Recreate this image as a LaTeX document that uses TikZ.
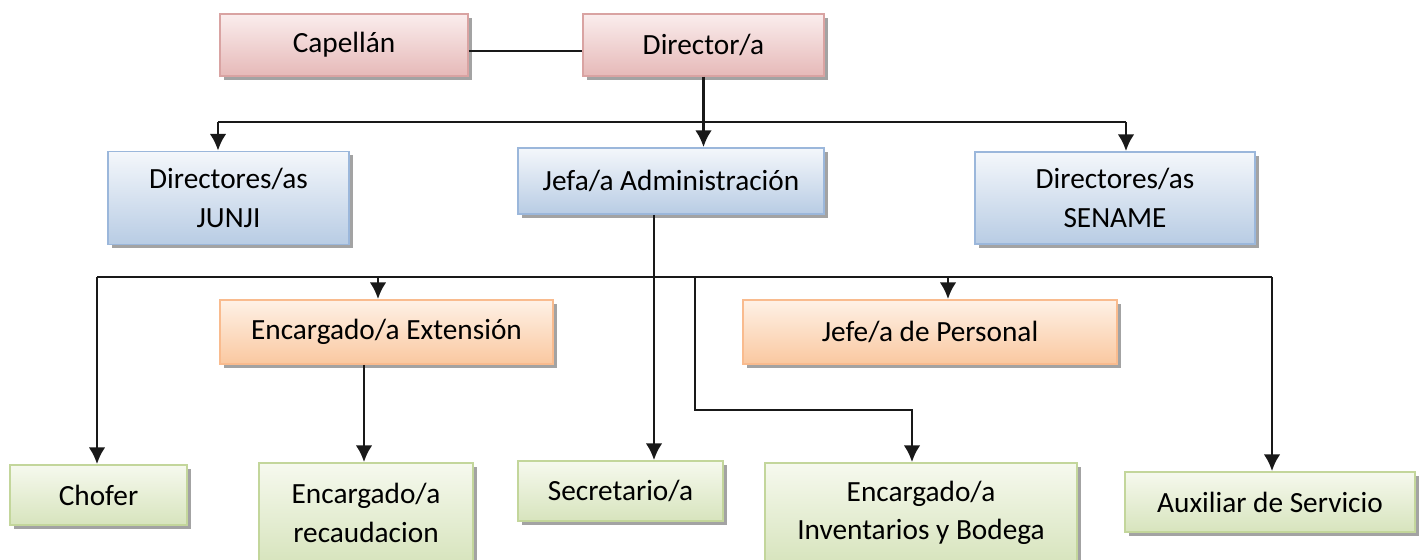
\documentclass[tikz,border=0pt]{standalone}
\usepackage{fontspec}
\setmainfont{Carlito}
\usetikzlibrary{arrows.meta,shadows}

\definecolor{pinkline}{HTML}{D9A3A2}
\definecolor{pinktop}{HTML}{FAEDED}
\definecolor{pinkbot}{HTML}{E6B9B8}
\definecolor{blueline}{HTML}{9BB7DB}
\definecolor{bluetop}{HTML}{F4F7FB}
\definecolor{bluebot}{HTML}{B8CCE4}
\definecolor{orangeline}{HTML}{F9BB8E}
\definecolor{orangetop}{HTML}{FEF1E6}
\definecolor{orangebot}{HTML}{FAC8A0}
\definecolor{greenline}{HTML}{C3D69B}
\definecolor{greentop}{HTML}{F6F9EE}
\definecolor{greenbot}{HTML}{D7E4BD}

\newcommand{\pxl}{0.03cm}

\tikzset{
  >={Latex[length=5mm,width=5mm]},
  link/.style={line width=2.4pt, black!90},
  orgbox/.style={draw, line width=1.5pt, inner sep=0pt, align=center,
    text=black, font=\fontsize{25}{33}\selectfont,
    drop shadow={shadow xshift=1.1mm, shadow yshift=-1.1mm, fill=black!45, opacity=0.8}},
  pinkbox/.style={orgbox, draw=pinkline, top color=pinktop, bottom color=pinkbot},
  bluebox/.style={orgbox, draw=blueline, top color=bluetop, bottom color=bluebot},
  orangebox/.style={orgbox, draw=orangeline, top color=orangetop, bottom color=orangebot},
  greenbox/.style={orgbox, draw=greenline, top color=greentop, bottom color=greenbot}
}

\begin{document}
\begin{tikzpicture}[x=\pxl, y=-\pxl]
  \useasboundingbox (0,0) rectangle (1421,560);
  %
  \foreach \name/\cx/\cy/\w/\h/\sty/\txt in {
      cap/344/45/248/62/pinkbox/{Capellán},
      dir/703.5/45/241/62/pinkbox/{Director/a},
      junji/228.5/198/241/93/bluebox/{Directores/as\\JUNJI},
      jefa/671/181/306/66/bluebox/{Jefa/a Administración},
      sename/1115/198/280/92/bluebox/{Directores/as\\SENAME},
      ext/386.5/332/333/64/orangebox/{Encargado/a Extensión},
      pers/930/332/374/64/orangebox/{Jefe/a de Personal},
      chofer/98.5/495/177/60/greenbox/{Chofer},
      recau/366/513/214/100/greenbox/{Encargado/a\\recaudacion},
      sec/620.5/491/205/60/greenbox/{Secretario/a},
      inv/921/513/312/100/greenbox/{Encargado/a\\Inventarios y Bodega},
      aux/1270/502/290/60/greenbox/{Auxiliar de Servicio}} {
    \node [\sty, minimum width=\w*\pxl, minimum height=\h*\pxl] (\name) at (\cx,\cy) {\txt};
  }
  %
  \coordinate (b1l) at (218,122);
  \coordinate (b1r) at (1126,122);
  \coordinate (b2l) at (97,277);
  \coordinate (b2r) at (1272,277);
  \coordinate (b2e) at (378,277);
  \coordinate (b2p) at (948,277);
  \coordinate (b2i) at (695,277);
  \coordinate (jl) at (654,0);
  \coordinate (rl) at (364,0);
  \coordinate (il) at (912,410);
  %
  \draw [link] ([yshift=-6*\pxl]cap.east) -- ([yshift=-6*\pxl]dir.west);
  \draw [link, ->] (dir.south) -- (dir.south |- jefa.north);
  \draw [link] (b1l) -- (b1r);
  \draw [link, ->] (b1l) -- (b1l |- junji.north);
  \draw [link, ->] (b1r) -- (b1r |- sename.north);
  %
  \draw [link] (b2l) -- (b2r);
  \draw [link, ->] (b2l) -- (b2l |- chofer.north);
  \draw [link, ->] (b2e) -- (b2e |- ext.north);
  \draw [link, ->] (b2p) -- (b2p |- pers.north);
  \draw [link, ->] (b2r) -- (b2r |- aux.north);
  \draw [link, ->] (jl |- jefa.south) -- (jl |- sec.north);
  \draw [link, ->] (rl |- ext.south) -- (rl |- recau.north);
  \draw [link, ->] (b2i) |- (il) -- (il |- inv.north);
\end{tikzpicture}
\end{document}
